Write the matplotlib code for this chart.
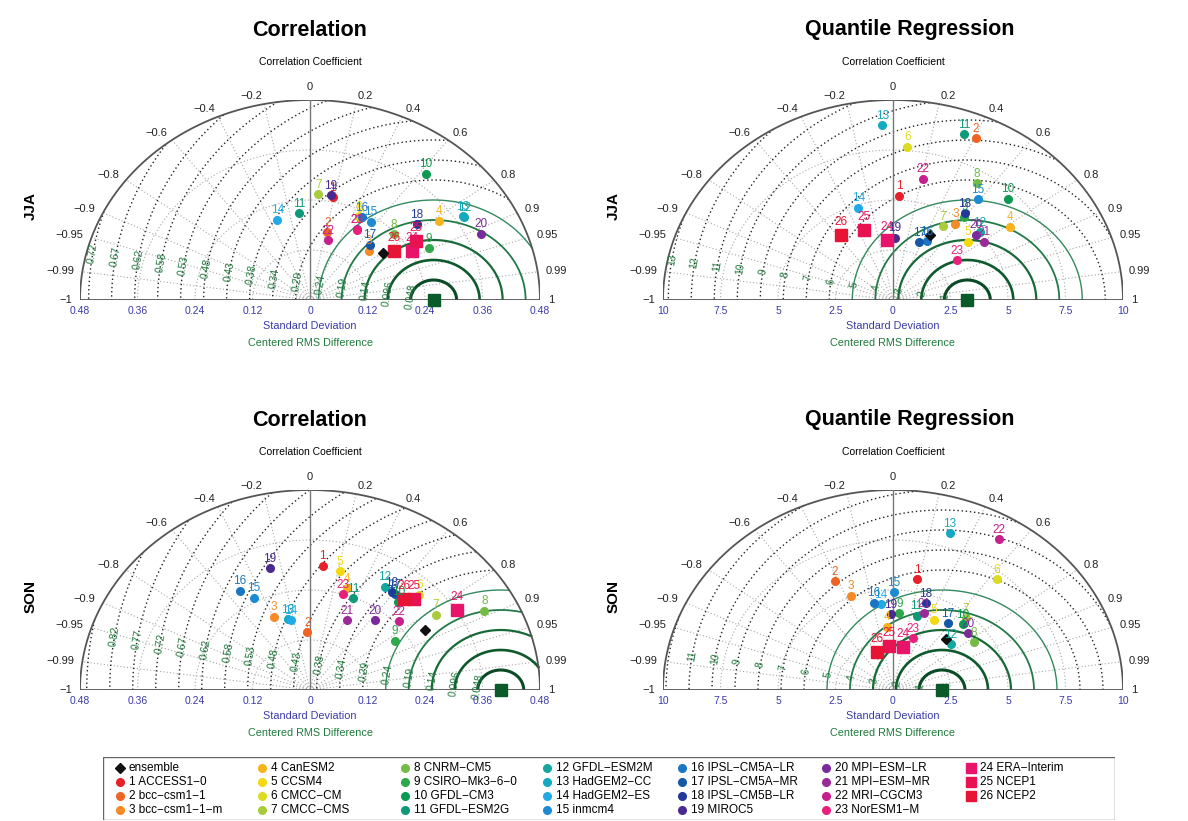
import numpy as np
import matplotlib.pyplot as plt
from matplotlib.patches import Rectangle

plt.rcParams['font.family'] = ['Liberation Sans', 'DejaVu Sans']

W, H = 1188, 821

# model names, colours, marker shapes (ensemble first, then 1..26)
names = ['ensemble', '1 ACCESS1−0', '2 bcc−csm1−1', '3 bcc−csm1−1−m',
         '4 CanESM2', '5 CCSM4', '6 CMCC−CM', '7 CMCC−CMS',
         '8 CNRM−CM5', '9 CSIRO−Mk3−6−0', '10 GFDL−CM3', '11 GFDL−ESM2G',
         '12 GFDL−ESM2M', '13 HadGEM2−CC', '14 HadGEM2−ES', '15 inmcm4',
         '16 IPSL−CM5A−LR', '17 IPSL−CM5A−MR', '18 IPSL−CM5B−LR', '19 MIROC5',
         '20 MPI−ESM−LR', '21 MPI−ESM−MR', '22 MRI−CGCM3', '23 NorESM1−M',
         '24 ERA−Interim', '25 NCEP1', '26 NCEP2']
colors = ['#111111', '#e8202a', '#ee6424', '#f58a26', '#f6b31c', '#f4d812',
          '#dcdc22', '#a9cc3c', '#73bb45', '#2fa84a', '#0c9a52', '#0e9a78',
          '#13a7a0', '#14a9c2', '#22aae6', '#1c8bd2', '#1a76c4', '#1558a6',
          '#22389a', '#4a2a90', '#7a2a9a', '#9b2a98', '#c6208c', '#e8207c',
          '#e8146c', '#e81252', '#e81434']
markers = ['D'] + ['o'] * 23 + ['s'] * 3

# JJA correlation
jja_cor_std = [0.1905, 0.251, 0.1664, 0.1708, 0.330, 0.222, 0.226, 0.255, 0.236,
               0.277, 0.3875, 0.209, 0.378, 0.377, 0.204, 0.2266, 0.226, 0.182,
               0.288, 0.2557, 0.391, 0.1957, 0.149, 0.195, 0.243, 0.2627, 0.2115]
jja_cor_r = [0.803, 0.189, 0.217, 0.721, 0.818, 0.470, 0.452, 0.068, 0.745,
             0.894, 0.623, -0.107, 0.851, 0.846, -0.335, 0.559, 0.478, 0.688,
             0.774, 0.169, 0.914, 0.498, 0.256, 0.50, 0.873, 0.842, 0.829]
jja_cor_ref = 0.258

# JJA quantile regression
jja_qr_std = [3.63, 5.21, 8.85, 4.67, 6.27, 4.36, 7.69, 4.28, 6.88, 5.19, 7.11,
              8.86, 5.09, 8.76, 4.86, 6.25, 3.29, 3.10, 5.35, 3.12, 4.85, 4.90,
              6.20, 3.42, 3.01, 3.72, 3.95]
jja_qr_r = [0.444, 0.050, 0.406, 0.580, 0.811, 0.744, 0.081, 0.504, 0.529, 0.597,
            0.702, 0.350, 0.744, -0.053, -0.311, 0.592, 0.445, 0.368, 0.585,
            0.028, 0.742, 0.804, 0.208, 0.811, -0.091, -0.339, -0.575]
jja_qr_ref = 3.23

# SON correlation
son_cor_std = [0.279, 0.2995, 0.1386, 0.1915, 0.256, 0.2924, 0.3225, 0.3187,
               0.4105, 0.2133, 0.2808, 0.238, 0.2932, 0.1765, 0.1715, 0.2505,
               0.2795, 0.2902, 0.290, 0.3038, 0.2154, 0.184, 0.2493, 0.240,
               0.3614, 0.3074, 0.293]
son_cor_r = [0.859, 0.0885, -0.041, -0.396, 0.299, 0.214, 0.707, 0.825, 0.886,
             0.832, 0.656, 0.380, 0.534, -0.260, -0.231, -0.467, -0.523, 0.611,
             0.588, -0.275, 0.630, 0.416, 0.748, 0.290, 0.847, 0.706, 0.669]
son_cor_ref = 0.398

# SON quantile regression
son_qr_std = [3.44, 5.65, 6.00, 5.05, 3.17, 3.93, 7.15, 4.79, 4.25, 3.84, 4.49,
              3.86, 3.41, 8.22, 4.32, 4.88, 4.44, 4.10, 4.56, 3.78, 4.33, 4.07,
              8.83, 2.72, 2.21, 2.21, 2.04]
son_qr_r = [0.670, 0.187, -0.420, -0.364, -0.078, 0.454, 0.631, 0.663, 0.828,
            0.071, 0.678, 0.267, 0.739, 0.302, -0.124, 0.009, -0.186, 0.581,
            0.312, -0.023, 0.756, 0.332, 0.522, 0.315, 0.191, -0.073, -0.347]
son_qr_ref = 2.13

cor_ticks = [-1, -0.99, -0.95, -0.9, -0.8, -0.6, -0.4, -0.2, 0,
             0.2, 0.4, 0.6, 0.8, 0.9, 0.95, 0.99, 1]
cor_xticks = [0.48, 0.36, 0.24, 0.12, 0, 0.12, 0.24, 0.36, 0.48]
qr_xticks = [10, 7.5, 5, 2.5, 0, 2.5, 5, 7.5, 10]

greens = ['#0a4a24', '#0e5a2c', '#176a38', '#237a48', '#338a5e', '#4a9a78']
dots = (0, (1, 2))


def fmt(v):
    return ('%g' % v).replace('-', '−')


def taylor(cx, by, R, ref, std, corr, xtick_vals, title, season, title_x=0.5):
    ax = plt.gcf().add_axes([(cx - 230) / W, 1 - by / H, 460 / W, 200 / H])
    ax.set_xlim(-R, R)
    ax.set_ylim(0, R)
    ax.axis('off')
    t = np.linspace(0, np.pi, 600)

    # std arcs and correlation rays
    for s in [R / 4, R / 2, 3 * R / 4]:
        ax.plot(s * np.cos(t), s * np.sin(t), color='#a8a8a8', lw=0.8, ls=dots)
    for c in cor_ticks:
        if abs(c) == 1 or c == 0:
            continue
        ax.plot([0, R * c], [0, R * np.sqrt(1 - c * c)], color='#a8a8a8', lw=0.8, ls=dots)

    # centred RMS difference circles
    step = R / 10
    k = 1
    while k * step < R + ref:
        r = k * step
        x = ref + r * np.cos(t)
        y = r * np.sin(t)
        inside = x ** 2 + y ** 2 <= R ** 2
        x = np.where(inside, x, np.nan)
        if r <= 0.5 * R + 1e-9:
            ax.plot(x, y, color=greens[min(k - 1, 5)], lw=max(2.2 - 0.3 * (k - 1), 1.0))
        else:
            ax.plot(x, y, color='#222222', lw=1.0, ls=dots)
        ang = np.radians(171)
        lx, ly = ref + r * np.cos(ang), r * np.sin(ang)
        if lx ** 2 + ly ** 2 < (0.985 * R) ** 2:
            ax.text(lx, ly, '%.2g' % r, color='#1f7a3c', fontsize=7.5, rotation=80,
                    ha='center', va='center')
        k += 1

    # frame
    ax.plot(R * np.cos(t), R * np.sin(t), color='#555555', lw=1.3)
    ax.plot([-R, R], [0, 0], color='#555555', lw=1.3)
    ax.plot([0, 0], [0, R], color='#777777', lw=1.0)

    # correlation labels
    for c in cor_ticks:
        th = np.arccos(c)
        ha = 'center' if c == 0 else ('left' if c > 0 else 'right')
        va = 'bottom' if c == 0 else 'center'
        ax.annotate(fmt(c), (R * np.cos(th), R * np.sin(th)),
                    xytext=(6 * np.cos(th), 6 * np.sin(th)), textcoords='offset points',
                    ha=ha, va=va, fontsize=8, color='#222222', annotation_clip=False)

    # x tick labels
    xt = ax.get_xaxis_transform()
    for i, v in enumerate(xtick_vals):
        pos = -v if i < 4 else v
        ax.text(pos, -0.055, fmt(v), transform=xt, ha='center', va='center',
                fontsize=7.5, color='#3a3aa8')
    ax.text(0, -0.13, 'Standard Deviation', transform=xt, ha='center', va='center',
            fontsize=7.8, color='#3a3aa8')
    ax.text(0, -0.215, 'Centered RMS Difference', transform=xt, ha='center',
            va='center', fontsize=7.8, color='#1f7a3c')

    ax.text(title_x, 1.35, title, transform=ax.transAxes, ha='center', va='center',
            fontsize=15.5, fontweight='bold')
    ax.text(0.5, 1.19, 'Correlation Coefficient', transform=ax.transAxes,
            ha='center', va='center', fontsize=7.5)
    ax.text(-0.108, 0.47, season, transform=ax.transAxes, ha='center', va='center',
            fontsize=11, fontweight='bold', rotation=90)

    # reference point
    ax.plot([ref], [0], marker='s', ms=8, color='#0b5a2a', clip_on=False, zorder=6)

    # models
    for i in range(len(std)):
        th = np.arccos(corr[i])
        x, y = std[i] * np.cos(th), std[i] * np.sin(th)
        if markers[i] == 's':
            ax.plot(x, y, marker='s', ms=8.5, color=colors[i], mec=colors[i], zorder=5)
        elif markers[i] == 'D':
            ax.plot(x, y, marker='D', ms=5.5, color=colors[i], zorder=7)
        else:
            ax.plot(x, y, marker='o', ms=5.5, color=colors[i], zorder=5)
        if i > 0:
            off = 5 if markers[i] == 's' else 2.5
            ax.annotate(str(i), (x, y), xytext=(0, off), textcoords='offset points',
                        ha='center', va='bottom', fontsize=8.5, color=colors[i],
                        zorder=8)
    return ax


fig = plt.figure(figsize=(W / 100, H / 100), dpi=100)
taylor(310, 300, 0.48, jja_cor_ref, jja_cor_std, jja_cor_r, cor_xticks, 'Correlation', 'JJA')
taylor(893, 300, 10, jja_qr_ref, jja_qr_std, jja_qr_r, qr_xticks, 'Quantile Regression', 'JJA', 0.537)
taylor(310, 690, 0.48, son_cor_ref, son_cor_std, son_cor_r, cor_xticks, 'Correlation', 'SON')
taylor(893, 690, 10, son_qr_ref, son_qr_std, son_qr_r, qr_xticks, 'Quantile Regression', 'SON', 0.537)

# legend box
lg = fig.add_axes([103 / W, 1 - 820 / H, (1115 - 103) / W, (820 - 757) / H])
lg.set_xlim(103, 1115)
lg.set_ylim(820, 757)
lg.axis('off')
lg.add_patch(Rectangle((103, 757), 1012, 63, fill=False, ec='#666666', lw=1.0))
col_x = [120, 262, 405, 547, 682, 826, 971]
row_y = [768, 782, 796, 810]
for i, name in enumerate(names):
    cx = col_x[i // 4]
    cy = row_y[i % 4]
    ms = {'D': 5, 'o': 5.5, 's': 6.5}[markers[i]]
    lg.plot(cx, cy, marker=markers[i], ms=ms, color=colors[i], clip_on=False)
    lg.text(cx + 9, cy, name, fontsize=8.5, va='center', ha='left')

fig.savefig('out.png', dpi=100, facecolor='white')
